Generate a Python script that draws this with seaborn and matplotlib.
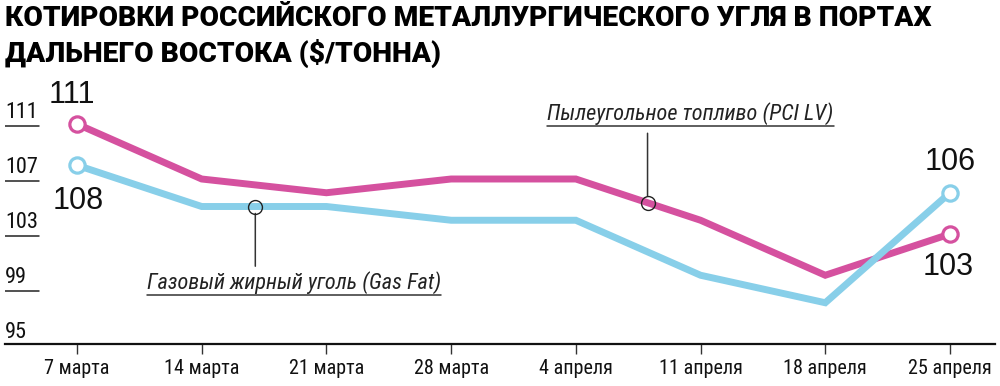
import numpy as np
import pandas as pd
import matplotlib
matplotlib.use("Agg")
import matplotlib.pyplot as plt
from matplotlib import font_manager as fm
import seaborn as sns

# ---- data ----
dates = ["7 марта", "14 марта", "21 марта", "28 марта", "4 апреля", "11 апреля", "18 апреля", "25 апреля"]
pci_lv = [111, 107, 106, 107, 107, 104, 100, 103]
gas_fat = [108, 105, 105, 104, 104, 100, 98, 106]
yticks = [111, 107, 103, 99, 95]
title = "КОТИРОВКИ РОССИЙСКОГО МЕТАЛЛУРГИЧЕСКОГО УГЛЯ В ПОРТАХ\nДАЛЬНЕГО ВОСТОКА ($/ТОННА)"
name_pci = "Пылеугольное топливо (PCI LV)"
name_gas = "Газовый жирный уголь (Gas Fat)"

PINK = "#d5519f"
BLUE = "#88cfe9"

sns.set_theme(style="white")
plt.rcParams["font.family"] = ["Liberation Sans", "DejaVu Sans"]

# find a condensed font
def find_font(italic=False):
    want = "italic" if italic else "normal"
    cands = []
    for f in fm.fontManager.ttflist:
        fn = f.fname.lower()
        cond = ("narrow" in fn) or ("condensed" in fn and "semicondensed" not in fn) or f.stretch in ("condensed", "semi-condensed")
        if not cond:
            continue
        if f.style != want and not (italic and f.style == "oblique"):
            continue
        if f.weight not in (400, "normal", "regular", "book"):
            continue
        score = 0
        if "liberationsansnarrow" in fn.replace("-", "").replace(" ", ""):
            score = 3
        elif "roboto" in fn:
            score = 2
        elif "dejavu" in fn:
            score = 1
        cands.append((score, f.fname))
    if cands:
        cands.sort(reverse=True)
        return fm.FontProperties(fname=cands[0][1])
    return fm.FontProperties(family="DejaVu Sans", stretch="condensed",
                             style="italic" if italic else "normal")

fp_narrow = find_font(False)
fp_narrow_it = find_font(True)

x = np.arange(len(dates))
df = pd.DataFrame({
    "x": np.concatenate([x, x]),
    "value": pci_lv + gas_fat,
    "series": [name_pci] * len(x) + [name_gas] * len(x),
})

fig = plt.figure(figsize=(10, 3.86), dpi=100)
ax = fig.add_axes([0.005, 42 / 386, 0.99, 275 / 386])

sns.lineplot(data=df, x="x", y="value", hue="series",
             palette={name_pci: PINK, name_gas: BLUE},
             linewidth=5, legend=False, ax=ax, zorder=3)
for line in ax.get_lines():
    line.set_solid_joinstyle("miter")

# endpoint open markers
for vals, col in [(pci_lv, PINK), (gas_fat, BLUE)]:
    ax.plot([x[0], x[-1]], [vals[0], vals[-1]], linestyle="none", marker="o",
            ms=11, mfc="white", mec=col, mew=2.3, zorder=4)

ax.set_xlim(-0.577, 7.361)
ax.set_ylim(95, 115)

# end labels
lab_kw = dict(textcoords="offset points", ha="center", va="center", fontsize=22, color="#111111",
              family=["Liberation Sans"])
ax.annotate(f"{pci_lv[0]}", (x[0], pci_lv[0]), xytext=(-4, 21), **lab_kw)
ax.annotate(f"{gas_fat[0]}", (x[0], gas_fat[0]), xytext=(1, -26), **lab_kw)
ax.annotate(f"{gas_fat[-1]}", (x[-1], gas_fat[-1]), xytext=(0, 22), **lab_kw)
ax.annotate(f"{pci_lv[-1]}", (x[-1], pci_lv[-1]), xytext=(-1, -24), **lab_kw)

# y tick labels drawn inside with short underlines
trans = matplotlib.transforms.blended_transform_factory(ax.transAxes, ax.transData)
for v in yticks:
    ax.text(0.0, v + 0.1, str(v), transform=trans, ha="left", va="bottom", fontproperties=fp_narrow,
            fontsize=16, color="#111111")
    if v != yticks[-1]:
        ax.plot([0.0, 0.034], [v - 0.12, v - 0.12], transform=trans, color="#222222", lw=1.1)
ax.set_yticks([])

# x axis
ax.set_xticks(x)
ax.set_xticklabels(dates)
for lab in ax.get_xticklabels():
    lab.set_fontproperties(fp_narrow)
    lab.set_fontsize(14.5)
    lab.set_color("#111111")
ax.tick_params(axis="x", direction="out", length=7, width=1, color="#333333", pad=3.5, bottom=True)
for s in ["left", "right", "top"]:
    ax.spines[s].set_visible(False)
ax.spines["bottom"].set_color("#111111")
ax.spines["bottom"].set_linewidth(1.6)
ax.set_xlabel("")
ax.set_ylabel("")

# annotations
def callout(xpos, vals, text_off, line_off, label):
    yv = float(np.interp(xpos, x, vals))
    ax.plot([xpos], [yv], marker="o", ms=10, mfc="none", mec="#222222", mew=1.0, zorder=5)
    ax.annotate("", xy=(xpos, yv), xytext=(0, line_off), textcoords="offset points",
                arrowprops=dict(arrowstyle="-", color="#333333", lw=1.1, shrinkA=0, shrinkB=5))
    t = ax.annotate(label, (xpos, yv), xytext=text_off, textcoords="offset points",
                    ha="center", va="center", color="#222222")
    t.set_fontproperties(fp_narrow_it)
    t.set_fontsize(16)
    return t

t_gas = callout(1.43, gas_fat, (28, -55), -43, name_gas)
t_pci = callout(4.575, pci_lv, (31, 64), 50, name_pci)

fig.text(0.005, 0.988, title, ha="left", va="top", fontsize=20.3, fontweight="black",
         family=["Roboto", "DejaVu Sans"], color="#000000", linespacing=1.3)

# underline annotation texts
fig.canvas.draw()
inv = fig.transFigure.inverted()
for t in (t_gas, t_pci):
    bb = t.get_window_extent()
    (x0, y0), (x1, _) = inv.transform([(bb.x0, bb.y0 - 1), (bb.x1, bb.y0 - 1)])
    fig.add_artist(matplotlib.lines.Line2D([x0, x1], [y0, y0], transform=fig.transFigure,
                                           color="#333333", lw=1.1))

fig.savefig("out.png", dpi=100)
